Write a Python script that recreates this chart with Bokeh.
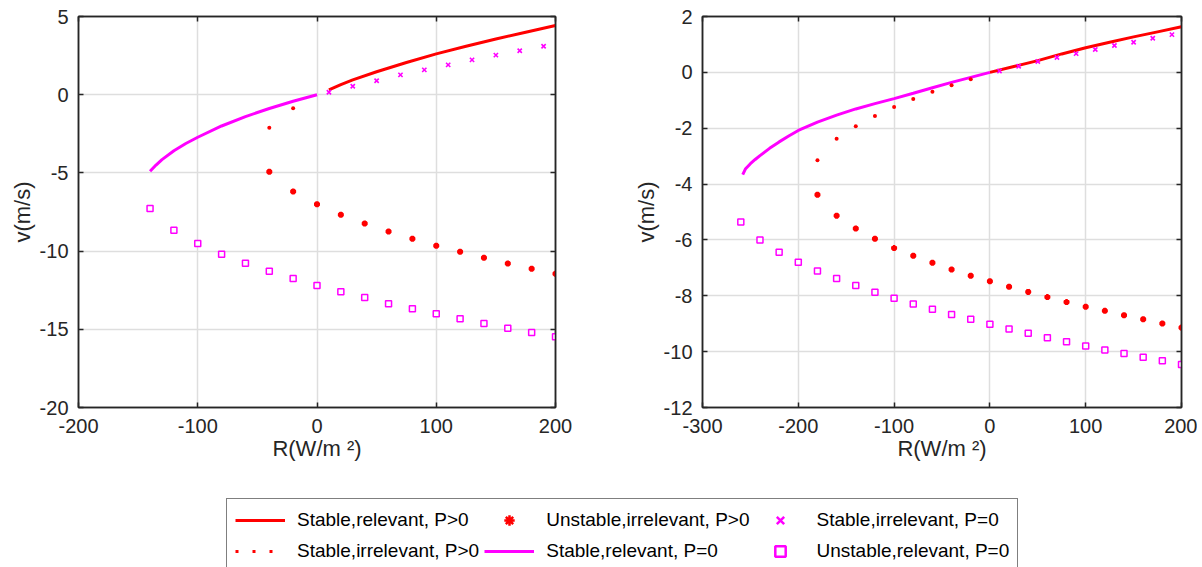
from bokeh.plotting import figure
from bokeh.models import Range1d, LinearAxis, FixedTicker, Legend, LegendItem
from bokeh.layouts import column, row
from bokeh.embed import file_html
from bokeh.resources import INLINE

# ---------------- data: left panel ----------------
L_R_stab_rel_P = [10, 20, 30, 50, 75, 100, 125, 150, 175, 200]
L_v_stab_rel_P = [0.31, 0.65, 0.95, 1.47, 2.06, 2.61, 3.10, 3.56, 3.99, 4.42]

L_R_stab_irr_P = [-40, -20]
L_v_stab_irr_P = [-2.12, -0.87]

L_R_unst_irr_P = [-40, -20, 0, 20, 40, 60, 80, 100, 120, 140, 160, 180, 200]
L_v_unst_irr_P = [-4.93, -6.19, -7.00, -7.68, -8.24, -8.75, -9.21, -9.66, -10.04,
                  -10.43, -10.79, -11.13, -11.45]

L_R_stab_rel_0 = [-140, -135, -130, -120, -110, -100, -80, -60, -40, -20, 0]
L_v_stab_rel_0 = [-4.90, -4.50, -4.15, -3.58, -3.12, -2.72, -2.00, -1.40, -0.88, -0.42, 0.0]

L_R_stab_irr_0 = [10, 30, 50, 70, 90, 110, 130, 150, 170, 190]
L_v_stab_irr_0 = [0.16, 0.54, 0.89, 1.27, 1.59, 1.91, 2.23, 2.53, 2.81, 3.10]

L_R_unst_rel_0 = [-140, -120, -100, -80, -60, -40, -20, 0, 20, 40, 60, 80, 100,
                  120, 140, 160, 180, 200]
L_v_unst_rel_0 = [-7.28, -8.66, -9.51, -10.20, -10.77, -11.29, -11.75, -12.20, -12.60,
                  -12.97, -13.36, -13.69, -14.01, -14.33, -14.63, -14.93, -15.20, -15.48]

L_xticks = [-200, -100, 0, 100, 200]
L_yticks = [-20, -15, -10, -5, 0, 5]

# ---------------- data: right panel ----------------
R_R_stab_rel_P = [0, 25, 50, 75, 100, 125, 150, 175, 200]
R_v_stab_rel_P = [0.0, 0.21, 0.42, 0.66, 0.88, 1.08, 1.27, 1.45, 1.63]

R_R_stab_irr_P = [-180, -160, -140, -120, -100, -80, -60, -40, -20]
R_v_stab_irr_P = [-3.15, -2.38, -1.93, -1.56, -1.24, -0.95, -0.69, -0.46, -0.25]

R_R_unst_irr_P = [-180, -160, -140, -120, -100, -80, -60, -40, -20, 0, 20, 40, 60,
                  80, 100, 120, 140, 160, 180, 200]
R_v_unst_irr_P = [-4.38, -5.13, -5.59, -5.96, -6.29, -6.57, -6.82, -7.06, -7.28, -7.48,
                  -7.68, -7.86, -8.04, -8.22, -8.39, -8.54, -8.70, -8.84, -8.99, -9.14]

R_R_stab_rel_0 = [-258, -255, -250, -245, -240, -230, -220, -210, -200, -180, -160,
                  -140, -120, -100, -80, -60, -40, -20, 0]
R_v_stab_rel_0 = [-3.66, -3.45, -3.27, -3.12, -2.98, -2.72, -2.49, -2.28, -2.08, -1.78,
                  -1.53, -1.31, -1.12, -0.94, -0.75, -0.55, -0.36, -0.18, 0.0]

R_R_stab_irr_0 = [10, 30, 50, 70, 90, 110, 130, 150, 170, 190]
R_v_stab_irr_0 = [0.05, 0.22, 0.39, 0.53, 0.67, 0.82, 0.96, 1.08, 1.22, 1.35]

R_R_unst_rel_0 = [-260, -240, -220, -200, -180, -160, -140, -120, -100, -80, -60, -40,
                  -20, 0, 20, 40, 60, 80, 100, 120, 140, 160, 180, 200]
R_v_unst_rel_0 = [-5.36, -6.00, -6.44, -6.80, -7.11, -7.38, -7.63, -7.87, -8.09, -8.29,
                  -8.48, -8.67, -8.84, -9.02, -9.19, -9.34, -9.50, -9.65, -9.80, -9.94,
                  -10.07, -10.20, -10.33, -10.46]

R_xticks = [-300, -200, -100, 0, 100, 200]
R_yticks = [-12, -10, -8, -6, -4, -2, 0, 2]

labels = ["Stable,relevant, P>0", "Stable,irrelevant, P>0", "Unstable,irrelevant, P>0",
          "Stable,relevant, P=0", "Stable,irrelevant, P=0", "Unstable,relevant, P=0"]

# ---------------- styling ----------------
FONT = "Liberation Sans"
AX = "#262626"
RED = "#ff0000"
MAG = "#ff00ff"
GRID = "#dedede"


def panel(xr, yr, xt, yt, width, mbl, mbr):
    p = figure(width=width, height=487, x_range=Range1d(*xr), y_range=Range1d(*yr),
               output_backend="svg", toolbar_location=None,
               min_border_left=mbl, min_border_right=mbr,
               min_border_top=16, min_border_bottom=80,
               x_axis_label="R(W/m \u00b2)", y_axis_label="v(m/s)")
    p.outline_line_color = AX
    p.outline_line_width = 1.5
    p.background_fill_color = "white"
    p.border_fill_color = "white"
    for ax, ticks in ((p.xaxis[0], xt), (p.yaxis[0], yt)):
        ax.ticker = FixedTicker(ticks=ticks)
        ax.major_label_overrides = {t: str(t) for t in ticks}
        ax.major_tick_in = 5
        ax.major_tick_out = 0
        ax.minor_tick_in = 0
        ax.minor_tick_out = 0
        ax.axis_line_color = AX
        ax.axis_line_width = 1.5
        ax.major_tick_line_color = AX
        ax.major_tick_line_width = 1.5
        ax.major_label_text_font = FONT
        ax.major_label_text_font_size = "20px"
        ax.major_label_text_color = AX
        ax.axis_label_text_font = FONT
        ax.axis_label_text_font_size = "22px"
        ax.axis_label_text_font_style = "normal"
        ax.axis_label_text_color = AX
    p.xaxis[0].major_label_standoff = 11
    p.xaxis[0].axis_label_standoff = 0
    p.yaxis[0].major_label_standoff = 10
    p.yaxis[0].axis_label_standoff = 2
    for loc, ticks in (("above", xt), ("right", yt)):
        a = LinearAxis(ticker=FixedTicker(ticks=ticks),
                       major_label_overrides={t: "" for t in ticks},
                       major_label_text_font_size="0px", major_label_standoff=0,
                       major_tick_in=5, major_tick_out=0, minor_tick_in=0, minor_tick_out=0,
                       axis_line_color=AX, axis_line_width=1.5,
                       major_tick_line_color=AX, major_tick_line_width=1.5)
        p.add_layout(a, loc)
    p.grid.grid_line_color = GRID
    p.grid.grid_line_width = 1.5
    return p


def draw(p, d):
    p.line(d[0], d[1], line_color=RED, line_width=3)
    p.line(d[6], d[7], line_color=MAG, line_width=3)
    p.scatter(d[2], d[3], marker="circle", size=4, fill_color=RED, line_color=None)
    p.scatter(d[4], d[5], marker="asterisk", size=6, line_color=RED, line_width=2.5)
    p.scatter(d[8], d[9], marker="x", size=6, line_color=MAG, line_width=1.6)
    p.scatter(d[10], d[11], marker="square", size=6, line_color=MAG, line_width=1.5,
              fill_color="white")


p1 = panel((-200, 200), (-20, 5), L_xticks, L_yticks, 630, 78, 75)
draw(p1, [L_R_stab_rel_P, L_v_stab_rel_P, L_R_stab_irr_P, L_v_stab_irr_P,
          L_R_unst_irr_P, L_v_unst_irr_P, L_R_stab_rel_0, L_v_stab_rel_0,
          L_R_stab_irr_0, L_v_stab_irr_0, L_R_unst_rel_0, L_v_unst_rel_0])

p2 = panel((-300, 200), (-12, 2), R_xticks, R_yticks, 567, 71, 16)
draw(p2, [R_R_stab_rel_P, R_v_stab_rel_P, R_R_stab_irr_P, R_v_stab_irr_P,
          R_R_unst_irr_P, R_v_unst_irr_P, R_R_stab_rel_0, R_v_stab_rel_0,
          R_R_stab_irr_0, R_v_stab_irr_0, R_R_unst_rel_0, R_v_unst_rel_0])

# ---------------- legend figure ----------------
lg = figure(width=1197, height=90, x_range=Range1d(0, 1), y_range=Range1d(0, 1),
            output_backend="svg", toolbar_location=None, min_border=0,
            x_axis_location=None, y_axis_location=None)
lg.grid.visible = False
lg.outline_line_color = None
off = [-5, -4]  # outside the visible range: only the legend swatches show
r1 = lg.line(x=off, y=off, line_color=RED, line_width=3)
r2 = lg.line(x=off, y=off, line_color=RED, line_width=3, line_dash="3 14")
r3 = lg.scatter(x=off, y=off, marker="asterisk", size=12, line_color=RED, line_width=2.5)
r4 = lg.line(x=off, y=off, line_color=MAG, line_width=3)
r5 = lg.scatter(x=off, y=off, marker="x", size=10, line_color=MAG, line_width=2.5)
r6 = lg.scatter(x=off, y=off, marker="square", size=11, line_color=MAG, line_width=2.5,
                fill_color="white")
items = [LegendItem(label=lab, renderers=[r]) for lab, r in
         zip(labels, [r1, r2, r3, r4, r5, r6])]
legend = Legend(items=items, location=(226, 4), orientation="vertical", nrows=2,
                border_line_color="black", border_line_width=1.5,
                background_fill_color="white", background_fill_alpha=1.0,
                padding=8, spacing=5, margin=0,
                glyph_width=50, glyph_height=26, label_height=20, label_standoff=12,
                label_text_font=FONT, label_text_font_size="19px",
                label_text_color="black")
lg.add_layout(legend, "center")

layout = column(row(p1, p2), lg)
open("out.html", "w").write(file_html(layout, INLINE))
